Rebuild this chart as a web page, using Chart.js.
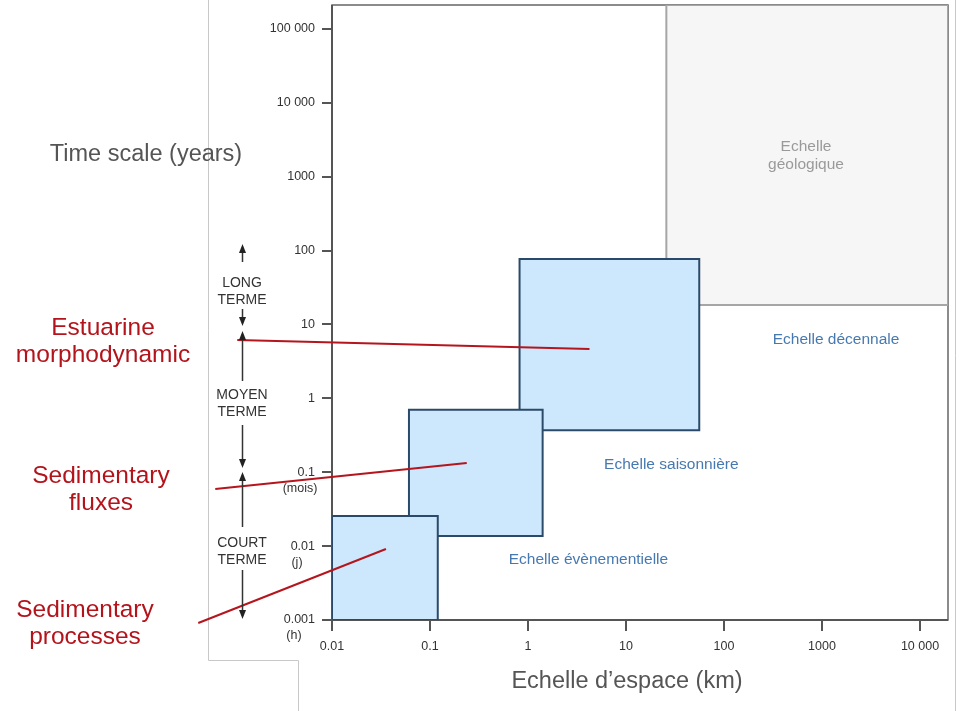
<!DOCTYPE html>
<html>
<head>
<meta charset="utf-8">
<script src="https://cdn.jsdelivr.net/npm/chart.js@4.4.1/dist/chart.umd.min.js"></script>
<style>
  html, body { margin: 0; padding: 0; background: #fff; }
  #wrap { width: 965px; height: 711px; position: relative; }
</style>
</head>
<body>
<div id="wrap"><canvas id="chart"></canvas></div>
<script>
// axis ranges (km / years)
const xMin = 0.01, xMax = 19300;
const yMin = 0.001, yMax = 211000;

// tick labels
const xTicks = [0.01, 0.1, 1, 10, 100, 1000, 10000];
const xTickLabels = ["0.01", "0.1", "1", "10", "100", "1000", "10 000"];
const yTicks = [0.001, 0.01, 0.1, 1, 10, 100, 1000, 10000, 100000];
const yTickLabels = ["0.001", "0.01", "0.1", "1", "10", "100", "1000", "10 000", "100 000"];
const subTickValues = [0.1, 0.01, 0.001];
const subTickLabels = ["(mois)", "(j)", "(h)"];

// boxes: espace (km) x temps (years)
const boxNames = ["Echelle géologique", "Echelle décennale", "Echelle saisonnière", "Echelle évènementielle"];
const boxX0 = [25.8, 0.82, 0.061, 0.01];
const boxX1 = [xMax, 55.9, 1.41, 0.12];
const boxY0 = [18.3, 0.37, 0.0137, 0.001];
const boxY1 = [yMax, 76.7, 0.70, 0.0255];

// red links from the left labels into the boxes
const linkNames = ["Estuarine morphodynamic", "Sedimentary fluxes", "Sedimentary processes"];
const linkX0 = [0.00108, 0.000644, 0.000432];
const linkY0 = [6.15, 0.0593, 0.00091];
const linkX1 = [4.24, 0.237, 0.0355];
const linkY1 = [4.65, 0.133, 0.00914];

// region labels (data coords)
const regionText = [["Echelle", "géologique"], ["Echelle décennale"], ["Echelle saisonnière"], ["Echelle évènementielle"]];
const regionX = [687, 1390, 29, 4.14];
const regionY = [2512, 6.15, 0.125, 0.0065];

const FONT = "'Liberation Sans', Arial, sans-serif";

function boxPoints(i) {
  return [
    { x: boxX0[i], y: boxY0[i] }, { x: boxX1[i], y: boxY0[i] },
    { x: boxX1[i], y: boxY1[i] }, { x: boxX0[i], y: boxY1[i] },
    { x: boxX0[i], y: boxY0[i] }
  ];
}

const datasets = [];
boxNames.forEach((name, i) => {
  const geo = i === 0;
  datasets.push({
    label: name,
    data: boxPoints(i),
    showLine: true,
    fill: "shape",
    backgroundColor: geo ? "#f6f6f6" : "#cde8fc",
    borderColor: geo ? "#a6a6a6" : "#2b4a6a",
    borderWidth: 2,
    borderJoinStyle: "miter",
    pointRadius: 0,
    tension: 0,
    order: 10 - i
  });
});
linkNames.forEach((name, i) => {
  datasets.push({
    label: name,
    data: [{ x: linkX0[i], y: linkY0[i] }, { x: linkX1[i], y: linkY1[i] }],
    showLine: true,
    fill: false,
    borderColor: "#b5151d",
    borderWidth: 2,
    pointRadius: 0,
    clip: false,
    order: 0
  });
});

// background decorations of the composite
const backdrop = {
  id: "backdrop",
  beforeDraw(chart) {
    const ctx = chart.ctx;
    ctx.save();
    ctx.fillStyle = "#fff";
    ctx.fillRect(0, 0, chart.width, chart.height);
    ctx.strokeStyle = "#c8c8c8";
    ctx.lineWidth = 1;
    ctx.beginPath();
    ctx.moveTo(208.5, 0); ctx.lineTo(208.5, 660.5); ctx.lineTo(298.5, 660.5); ctx.lineTo(298.5, 711);
    ctx.moveTo(955.5, 0); ctx.lineTo(955.5, 711);
    ctx.stroke();
    ctx.restore();
  },
  beforeDatasetsDraw(chart) {
    const { ctx, chartArea: a } = chart;
    ctx.save();
    ctx.strokeStyle = "#666";
    ctx.lineWidth = 1.5;
    ctx.strokeRect(a.left, a.top, a.right - a.left, a.bottom - a.top);
    ctx.strokeStyle = "#555";
    ctx.lineWidth = 2;
    ctx.beginPath();
    ctx.moveTo(a.left, a.top); ctx.lineTo(a.left, a.bottom); ctx.lineTo(a.right, a.bottom);
    ctx.stroke();
    ctx.restore();
  }
};

function arrow(ctx, x, from, to) {
  const dir = to < from ? -1 : 1;
  ctx.beginPath();
  ctx.moveTo(x, from);
  ctx.lineTo(x, to - dir * 8);
  ctx.stroke();
  ctx.beginPath();
  ctx.moveTo(x, to);
  ctx.lineTo(x - 3.5, to - dir * 9);
  ctx.lineTo(x + 3.5, to - dir * 9);
  ctx.closePath();
  ctx.fill();
}

const notes = {
  id: "notes",
  afterDraw(chart) {
    const { ctx, scales: { x, y } } = chart;
    ctx.save();
    ctx.textAlign = "center";
    ctx.textBaseline = "middle";

    // region labels
    regionText.forEach((lines, i) => {
      ctx.fillStyle = i === 0 ? "#9a9a9a" : "#4679b0";
      ctx.font = "15.5px " + FONT;
      const px = x.getPixelForValue(regionX[i]);
      const py = y.getPixelForValue(regionY[i]);
      lines.forEach((t, k) => ctx.fillText(t, px, py + k * 18));
    });

    // sub tick labels
    ctx.fillStyle = "#333";
    ctx.font = "12.5px " + FONT;
    const subX = [300, 297, 294];
    subTickValues.forEach((v, i) => {
      ctx.fillText(subTickLabels[i], subX[i], y.getPixelForValue(v) + 16);
    });

    // term labels and arrows
    ctx.font = "14px " + FONT;
    ctx.fillText("LONG", 242, 283);
    ctx.fillText("TERME", 242, 300);
    ctx.fillText("MOYEN", 242, 395);
    ctx.fillText("TERME", 242, 412);
    ctx.fillText("COURT", 242, 543);
    ctx.fillText("TERME", 242, 560);
    ctx.strokeStyle = "#333";
    ctx.fillStyle = "#222";
    ctx.lineWidth = 1.5;
    arrow(ctx, 242.5, 262, 244);
    arrow(ctx, 242.5, 309, 326);
    arrow(ctx, 242.5, 381, 331);
    arrow(ctx, 242.5, 425, 468);
    arrow(ctx, 242.5, 527, 472);
    arrow(ctx, 242.5, 570, 619);

    // titles
    ctx.fillStyle = "#555";
    ctx.font = "23.5px " + FONT;
    ctx.fillText("Time scale (years)", 146, 155);
    ctx.fillText("Echelle d\u2019espace (km)", 627, 682);

    // red labels
    ctx.fillStyle = "#b3141c";
    ctx.font = "24.5px " + FONT;
    ctx.fillText("Estuarine", 103, 328);
    ctx.fillText("morphodynamic", 103, 355);
    ctx.fillText("Sedimentary", 101, 476);
    ctx.fillText("fluxes", 101, 503);
    ctx.fillText("Sedimentary", 85, 610);
    ctx.fillText("processes", 85, 637);
    ctx.restore();
  }
};

new Chart(document.getElementById("chart"), {
  type: "scatter",
  data: { datasets },
  options: {
    responsive: true,
    maintainAspectRatio: false,
    animation: false,
    layout: { padding: { top: 5, right: 17, left: 0, bottom: 0 } },
    plugins: { legend: { display: false }, tooltip: { enabled: false } },
    scales: {
      x: {
        type: "logarithmic",
        min: xMin,
        max: xMax,
        afterBuildTicks: (s) => { s.ticks = xTicks.map((v) => ({ value: v })); },
        afterFit: (s) => { s.height = 91; s.paddingLeft = 0; s.paddingRight = 0; },
        ticks: {
          autoSkip: false,
          maxRotation: 0,
          padding: 8,
          color: "#333",
          font: { family: FONT, size: 12.5 },
          callback: (v, i) => xTickLabels[i]
        },
        grid: { drawOnChartArea: false, drawTicks: true, tickLength: 11, color: "#555", lineWidth: 2 },
        border: { display: false }
      },
      y: {
        type: "logarithmic",
        min: yMin,
        max: yMax,
        afterBuildTicks: (s) => { s.ticks = yTicks.map((v) => ({ value: v })); },
        afterFit: (s) => { s.width = 332; s.paddingTop = 0; s.paddingBottom = 0; },
        ticks: {
          autoSkip: false,
          padding: 7,
          color: "#333",
          font: { family: FONT, size: 12.5 },
          callback: (v, i) => yTickLabels[i]
        },
        grid: { drawOnChartArea: false, drawTicks: true, tickLength: 10, color: "#555", lineWidth: 2 },
        border: { display: false }
      }
    }
  },
  plugins: [backdrop, notes]
});
</script>
</body>
</html>
